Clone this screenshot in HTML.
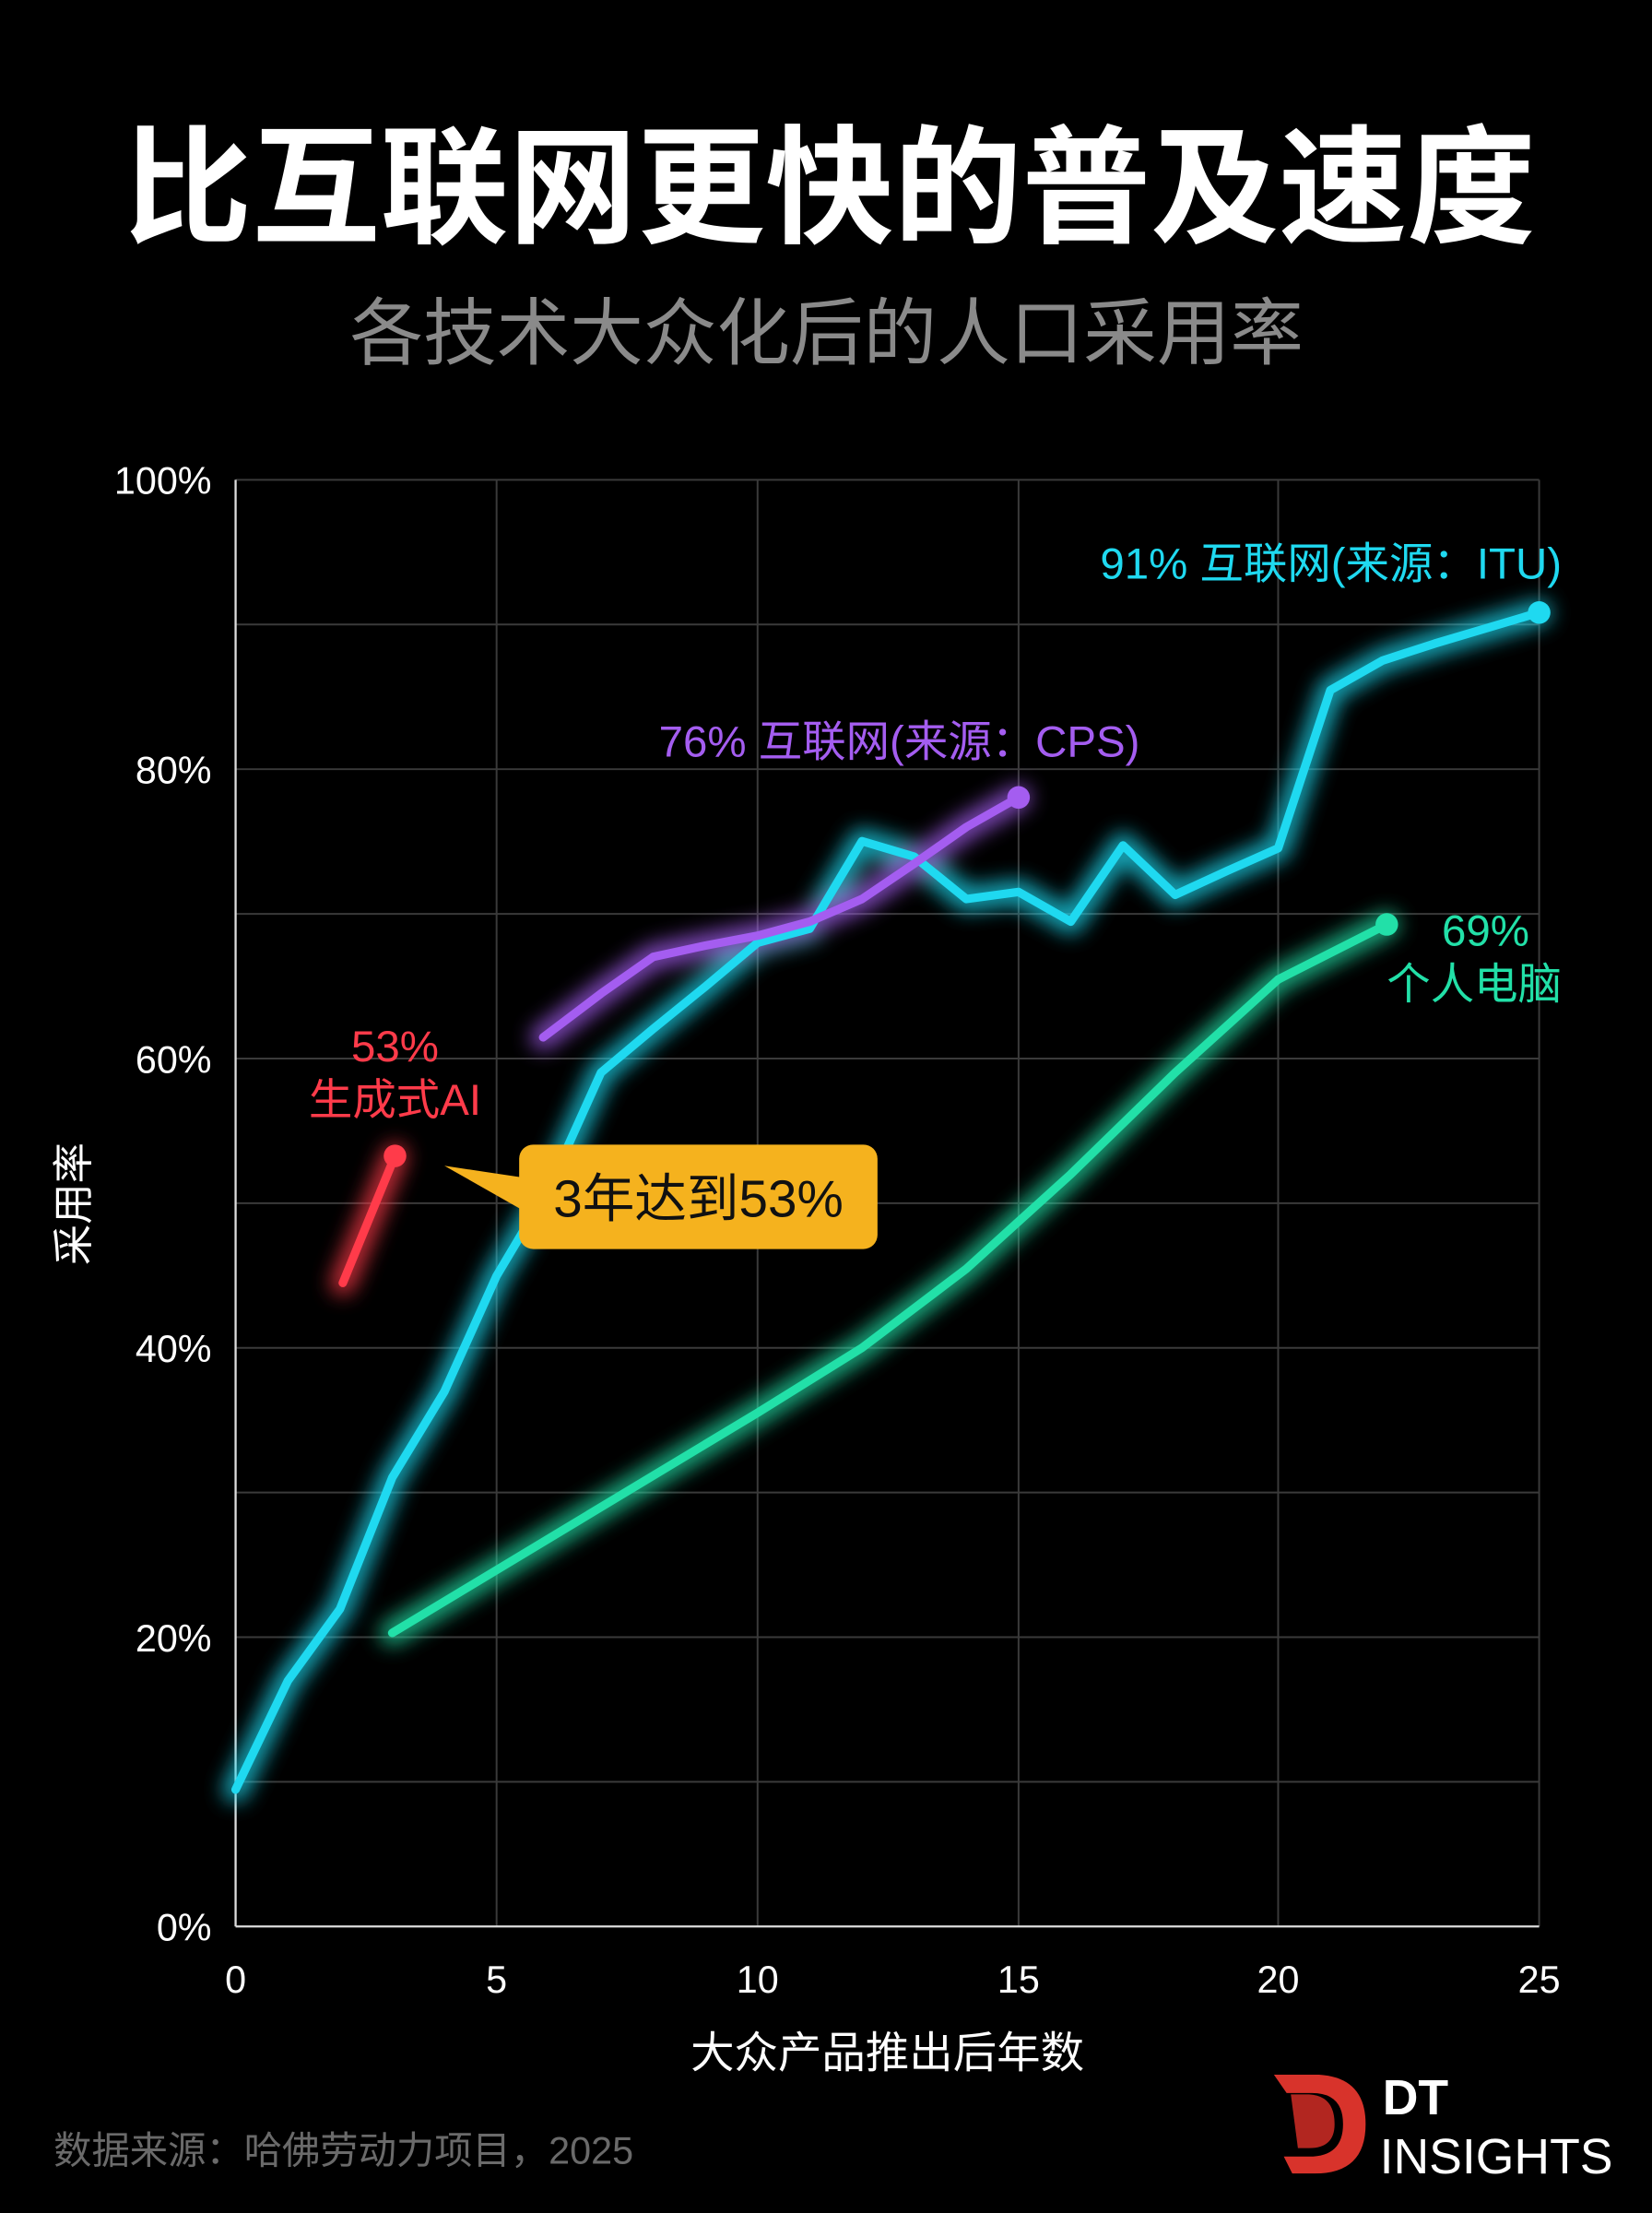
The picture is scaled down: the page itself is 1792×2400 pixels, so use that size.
<!DOCTYPE html>
<html><head><meta charset="utf-8"><style>
html,body{margin:0;padding:0;background:#000;}
svg{display:block;}
text{font-family:"Liberation Sans","Noto Sans CJK SC",sans-serif;}
</style></head><body>
<svg width="1792" height="2400" viewBox="0 0 1171 1568" preserveAspectRatio="none" xmlns="http://www.w3.org/2000/svg">
<defs>
<filter id="g" x="-20%" y="-20%" width="140%" height="140%"><feGaussianBlur stdDeviation="7"/></filter>
</defs>
<rect width="1171" height="1568" fill="#000"/>
<text x="588" y="165" fill="#fff" font-size="91" font-weight="bold" text-anchor="middle">比互联网更快的普及速度</text>
<text x="586" y="254" fill="#8a8a8a" font-size="52" text-anchor="middle">各技术大众化后的人口采用率</text>
<g stroke="#3a3a3a" stroke-width="1.3">
<line x1="167" y1="340" x2="1091" y2="340"/><line x1="167" y1="442.5" x2="1091" y2="442.5"/>
<line x1="167" y1="545" x2="1091" y2="545"/><line x1="167" y1="647.5" x2="1091" y2="647.5"/>
<line x1="167" y1="750" x2="1091" y2="750"/><line x1="167" y1="852.5" x2="1091" y2="852.5"/>
<line x1="167" y1="955" x2="1091" y2="955"/><line x1="167" y1="1057.5" x2="1091" y2="1057.5"/>
<line x1="167" y1="1160" x2="1091" y2="1160"/><line x1="167" y1="1262.5" x2="1091" y2="1262.5"/>
<line x1="352" y1="340" x2="352" y2="1365"/><line x1="537" y1="340" x2="537" y2="1365"/>
<line x1="722" y1="340" x2="722" y2="1365"/><line x1="906" y1="340" x2="906" y2="1365"/>
<line x1="1091" y1="340" x2="1091" y2="1365"/>
</g>
<line x1="167" y1="340" x2="167" y2="1365" stroke="#ddd" stroke-width="1.5"/>
<line x1="167" y1="1365" x2="1091" y2="1365" stroke="#ddd" stroke-width="1.5"/>
<g fill="#fff" font-size="27" text-anchor="end">
<text x="150" y="350">100%</text><text x="150" y="555">80%</text><text x="150" y="760">60%</text>
<text x="150" y="965">40%</text><text x="150" y="1170">20%</text><text x="150" y="1375">0%</text>
</g>
<g fill="#fff" font-size="27" text-anchor="middle">
<text x="167" y="1412">0</text><text x="352" y="1412">5</text><text x="537" y="1412">10</text>
<text x="722" y="1412">15</text><text x="906" y="1412">20</text><text x="1091" y="1412">25</text>
</g>
<text x="629" y="1465" fill="#fff" font-size="31" text-anchor="middle">大众产品推出后年数</text>
<text transform="translate(62,853) rotate(-90)" fill="#fff" font-size="29" text-anchor="middle">采用率</text>

<g fill="none" stroke-linejoin="round" stroke-linecap="round">
<g id="lines">
<polyline stroke="#1fd9f0" points="167,1268 204,1191 241,1140 278,1047 315,986 352,904 389,842 426,760 463,729 500,699 537,668 574,658 611,596 648,607 685,637 722,632 759,653 796,599 833,634 870,617 906,601 943,489 980,468 1017,456 1054,445 1091,434"/>
<polyline stroke="#a45df0" points="385,735 426,704 463,678 500,670 537,663 574,653 611,637 648,612 685,586 722,565"/>
<polyline stroke="#22e0a8" points="278,1157 537,1001 611,955 685,899 759,832 833,760 906,694 983,655"/>
<polyline stroke="#ff3b4a" points="243,909 280,819"/>
</g>
<use href="#lines" stroke-width="18" opacity="0.75" filter="url(#g)"/>
<use href="#lines" stroke-width="6"/>
</g>
<circle cx="1091" cy="434" r="8" fill="#1fd9f0"/>
<circle cx="722" cy="565" r="8" fill="#a45df0"/>
<circle cx="983" cy="655" r="8" fill="#22e0a8"/>
<circle cx="280" cy="819" r="8" fill="#ff3b4a"/>

<text x="1107" y="410" fill="#1fd9f0" font-size="31" text-anchor="end">91% 互联网(来源：ITU)</text>
<text x="808" y="536" fill="#a45df0" font-size="31" text-anchor="end">76% 互联网(来源：CPS)</text>
<text x="1053" y="670" fill="#22e0a8" font-size="31" text-anchor="middle">69%</text>
<text x="1045" y="708" fill="#22e0a8" font-size="31" text-anchor="middle">个人电脑</text>
<text x="280" y="752" fill="#ff3b4a" font-size="31" text-anchor="middle">53%</text>
<text x="280" y="790" fill="#ff3b4a" font-size="31" text-anchor="middle">生成式AI</text>

<path d="M315,826 L375,835 L375,860 Z" fill="#f5b21e"/>
<rect x="368" y="811" width="254" height="74" rx="10" fill="#f5b21e"/>
<text x="495" y="862" fill="#111" font-size="37" text-anchor="middle">3年达到53%</text>

<text x="38" y="1533" fill="#6a6a6a" font-size="27">数据来源：哈佛劳动力项目，2025</text>
<path d="M903,1470 L935,1470 Q968,1472 968,1505 Q968,1540 932,1540 L916,1540 L910,1528 L928,1528 Q952,1528 952,1505 Q952,1483 930,1483 L912,1483 Z" fill="#d8332b"/>
<path d="M915,1484 L928,1484 Q946,1485 946,1505 Q946,1522 928,1522 L920,1522 Z" fill="#b22620"/>
<text x="980" y="1498" fill="#fff" font-size="35" font-weight="bold">DT</text>
<text x="978" y="1540" fill="#fff" font-size="35">INSIGHTS</text>
</svg>
</body></html>
